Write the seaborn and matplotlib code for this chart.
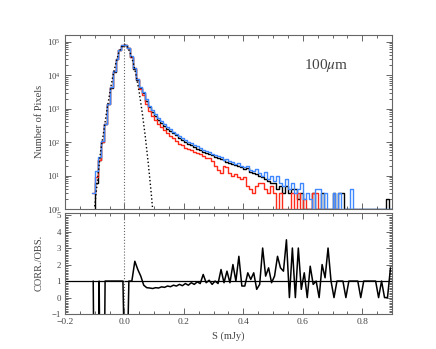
# pixel histogram at 100um: observed vs corrected maps, plus the ratio panel
import numpy as np
import pandas as pd
import seaborn as sns
import matplotlib.pyplot as plt
from matplotlib.ticker import MultipleLocator, LogLocator, NullFormatter

# --- data ---

# histogram bins: 0.01 mJy wide, first edge at -0.11
bin_lo = -0.11
bin_w = 0.01

# counts per bin (bin centres -0.105 ... 0.895)
n_black = [0, 6, 30, 100, 350, 1350, 4300, 13000, 30000, 56000,
           78000, 82000, 64000, 36000, 16000, 7500, 4200, 3000, 1700, 1100,
           800, 620, 470, 380, 300, 255, 215, 185, 160, 135,
           118, 100, 88, 80, 72, 64, 58, 52, 47, 43,
           40, 37, 34, 31, 29, 26, 24, 22, 21, 19,
           18, 16, 17, 13, 12, 11, 10, 9, 8, 7,
           6, 6, 4, 5, 3, 5, 3, 4, 4, 2,
           3, 1, 1, 1, 3, 1, 1, 3, 1, 1,
           1, 3, 1, 3, 3, 1, 1, 1, 1, 1,
           1, 1, 1, 1, 1, 1, 1, 1, 1, 2,
           1]

n_red = [3, 9, 30, 102, 360, 1360, 4350, 13100, 30200, 56500,
         78500, 82500, 64000, 36500, 16500, 7600, 4000, 2600, 1350, 850,
         600, 470, 360, 290, 225, 185, 155, 130, 110, 90,
         80, 66, 62, 60, 50, 46, 43, 38, 34, 33,
         28, 20, 15, 12, 20, 18, 12, 10, 11, 9,
         8, 9, 5, 4, 3, 5, 6, 6, 4, 3,
         5, 3, 1, 3, 1, 1, 1, 3, 1, 3,
         1, 2, 1, 1, 3, 3, 1, 1, 1, 0,
         0, 1, 0, 1, 0, 0, 0, 0, 0, 0,
         0, 0, 0, 0, 0, 0, 0, 0, 0, 0,
         0]

n_blue = [3, 14, 35, 105, 360, 1370, 4400, 13200, 30500, 57000,
          79000, 83000, 65000, 37000, 16800, 7900, 4500, 3200, 1900, 1250,
          900, 700, 530, 420, 340, 285, 240, 205, 180, 150,
          135, 115, 100, 92, 80, 75, 66, 60, 54, 50,
          45, 41, 39, 35, 30, 32, 28, 26, 22, 24,
          20, 18, 19, 15, 14, 16, 12, 10, 13, 8,
          10, 7, 10, 6, 5, 8, 4, 6, 3, 4,
          6, 2, 3, 2, 1, 4, 4, 1, 3, 1,
          1, 3, 1, 3, 1, 1, 1, 4, 1, 1,
          1, 1, 1, 1, 1, 1, 1, 1, 1, 1,
          1]

# CORR./OBS. ratio at the same bin centres
ratio = [1, -20, 1, -20, 1, 1, 1, 1, 1, 1,
         1, -8, 1, 1, 2.2, 1.7, 1.3, 0.75, 0.6, 0.58,
         0.55, 0.6, 0.58, 0.65, 0.62, 0.7, 0.66, 0.75, 0.7, 0.8,
         0.72, 0.85, 0.75, 0.9, 0.8, 0.95, 0.85, 1.4, 0.9, 1.05,
         0.8, 1.0, 0.85, 1.7, 0.9, 1.6, 0.9, 2.0, 1.0, 2.5,
         0.7, 0.7, 1.5, 1.1, 1.5, 0.5, 0.8, 3.0, 1.3, 1.8,
         0.9, 1.3, 2.5, 1.8, 1.6, 3.5, 0.0, 3.0, 0.0, 3.0,
         0.5, 1.5, 0.0, 1.9, 0.8, 1.0, 0.0, 2.0, 1.2, 3.0,
         1.0, 0.0, 1.0, 1.0, 1.0, 0.0, 1.0, 1.0, 1.0, 1.0,
         0.0, 1.0, 1.0, 1.0, 1.0, 1.0, 0.0, 1.0, 0.0, 0.0,
         1.8]

# dotted noise curve
gauss_s = [-0.10, -0.09, -0.08, -0.07, -0.06, -0.05, -0.04, -0.03, -0.02, -0.01,
           0.0, 0.01, 0.02, 0.03, 0.04, 0.05, 0.06, 0.07, 0.08, 0.09, 0.10]
gauss_n = [1.2, 8, 55, 200, 800, 2700, 8500, 21000, 45000, 70000,
           85000, 71000, 45600, 23200, 9380, 3000, 760, 153, 24.3, 3.1, 0.31]

# --- build table ---
nbins = len(n_black)
centers = bin_lo + bin_w * (np.arange(nbins) + 0.5)
hist = pd.DataFrame({"S": centers, "black": n_black, "red": n_red,
                     "blue": n_blue, "ratio": ratio})

# --- style ---
sns.set_theme(style="ticks")
plt.rcParams["font.family"] = ["Liberation Serif", "DejaVu Serif"]
plt.rcParams["mathtext.fontset"] = "stix"
grey = "#666666"
txt = "#444444"
plt.rcParams.update({
    "axes.edgecolor": grey, "axes.linewidth": 0.8,
    "xtick.color": grey, "ytick.color": grey,
    "xtick.labelcolor": txt, "ytick.labelcolor": txt,
    "axes.labelcolor": txt,
    "xtick.labelsize": 6.8, "ytick.labelsize": 6.3, "axes.labelsize": 7.5,
})

fig = plt.figure(figsize=(4.36, 3.49), dpi=100)
ax1 = fig.add_axes([0.149, 0.401, 0.750, 0.500])
ax2 = fig.add_axes([0.149, 0.100, 0.750, 0.291], sharex=ax1)

# top panel: three step histograms
for col, c in [("black", "black"), ("red", "#ff2a1a"), ("blue", "#4088ff")]:
    sns.histplot(data=hist, x="S", weights=col, bins=nbins,
                 binrange=(bin_lo, bin_lo + nbins * bin_w), element="step",
                 fill=False, color=c, linewidth=1.0, ax=ax1)
ax1.set_yscale("log")
sns.lineplot(x=gauss_s, y=gauss_n, color="black", linestyle=":", linewidth=1.0, ax=ax1)
ax1.axvline(0, color=grey, linestyle=":", linewidth=0.8)

ax1.set_xlim(-0.2, 0.9)
ax1.set_ylim(1, 10 ** 5.22)
ax1.set_ylabel("Number of Pixels")
ax1.set_xlabel("")
ax1.yaxis.set_major_locator(LogLocator(base=10, numticks=10))
ax1.yaxis.set_minor_locator(LogLocator(base=10, subs=np.arange(2, 10), numticks=10))
ax1.yaxis.set_minor_formatter(NullFormatter())
ax1.tick_params(axis="x", labelbottom=False)
ax1.text(0.80, 0.82, r"100$\mu$m", transform=ax1.transAxes, fontsize=11,
         color=txt, ha="center", va="center")

# bottom panel: ratio
sns.lineplot(data=hist, x="S", y="ratio", color="black", linewidth=1.1,
             errorbar=None, sort=False, ax=ax2)
ax2.axhline(1, color="black", linewidth=0.9)
ax2.axvline(0, color=grey, linestyle=":", linewidth=0.8)
ax2.set_ylim(-1, 5.15)
ax2.set_xlabel("S (mJy)")
ax2.set_ylabel("CORR./OBS.")
ax2.yaxis.set_major_locator(MultipleLocator(1))
ax2.yaxis.set_minor_locator(MultipleLocator(0.1))

for ax in (ax1, ax2):
    ax.xaxis.set_major_locator(MultipleLocator(0.2))
    ax.xaxis.set_minor_locator(MultipleLocator(0.05))
    ax.tick_params(which="both", direction="in", top=True, right=True, width=0.7)
    ax.tick_params(which="major", length=4, pad=3)
    ax.tick_params(which="minor", length=2.3)
    ax.yaxis.set_label_coords(-0.065, 0.5)

ax2.xaxis.set_major_formatter(plt.FuncFormatter(lambda v, p: f"{v:.1f}".replace("-", "\u2212")))

fig.savefig("out.png", dpi=100)
